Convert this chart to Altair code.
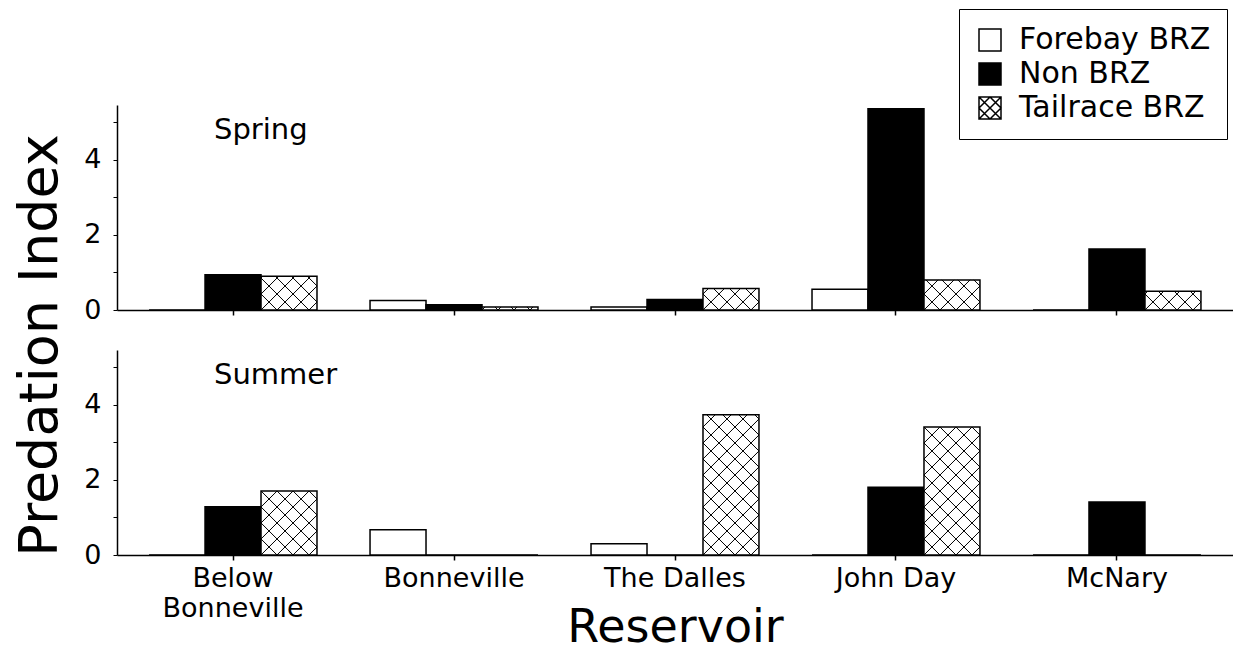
import altair as alt
import pandas as pd

# ---------------- data ----------------
reservoirs = ["Below Bonneville", "Bonneville", "The Dalles", "John Day", "McNary"]
zones = ["Forebay BRZ", "Non BRZ", "Tailrace BRZ"]
seasons = ["Spring", "Summer"]

spring_forebay = [0.0, 0.25, 0.08, 0.55, 0.0]
spring_non = [0.94, 0.14, 0.28, 5.35, 1.62]
spring_tailrace = [0.90, 0.08, 0.57, 0.80, 0.50]

summer_forebay = [0.0, 0.67, 0.30, 0.0, 0.0]
summer_non = [1.28, 0.0, 0.0, 1.80, 1.41]
summer_tailrace = [1.70, 0.0, 3.73, 3.40, 0.0]

series = {
    "Spring": [spring_forebay, spring_non, spring_tailrace],
    "Summer": [summer_forebay, summer_non, summer_tailrace],
}
rows = []
for season in seasons:
    for zone, vals in zip(zones, series[season]):
        for r, v in zip(reservoirs, vals):
            rows.append({"season": season, "reservoir": r, "zone": zone, "value": v})
df = pd.DataFrame(rows)

# ---------------- layout / style ----------------
FONT = "DejaVu Sans"
W = 1116          # plot width of each panel
H = 205           # plot height of each panel
YMAX = 5.45
PAD_IN = 0.24
PAD_OUT = 0.145
STEP = W / (len(reservoirs) - PAD_IN + 2 * PAD_OUT)
SUB_W = STEP * (1 - PAD_IN) / len(zones)
HW = SUB_W / 2
D = 16            # hatch spacing (px)
PX_PER_UNIT = H / YMAX

HATCH_SYMBOL = "M-1,-1H1V1H-1Z M-1,-1L1,1 M-1,1L1,-1 M0,-1L1,0L0,1L-1,0Z"


def r1(e):
    return f"(round(({e})*10)/10)"


seg_a = (
    "(datum.a0 < datum.a1 ? 'M' + " + r1(f"datum.a0 + datum.ca - {HW}") + " + ',' + "
    + r1("datum.h - datum.a0") + " + 'L' + " + r1(f"datum.a1 + datum.ca - {HW}")
    + " + ',' + " + r1("datum.h - datum.a1") + " : '')"
)
seg_b = (
    "(datum.b0 < datum.b1 ? 'M' + " + r1(f"datum.cb - datum.b0 - {HW}") + " + ',' + "
    + r1("datum.h - datum.b0") + " + 'L' + " + r1(f"datum.cb - datum.b1 - {HW}")
    + " + ',' + " + r1("datum.h - datum.b1") + " : '')"
)


def panel(season, bottom):
    base = alt.Chart(df).transform_filter(alt.datum.season == season)

    if bottom:
        xaxis = alt.Axis(
            labelExpr="datum.value == 'Below Bonneville' ? ['Below', 'Bonneville'] : datum.label",
            labelAngle=0, labelFontSize=27, labelLineHeight=30, labelPadding=5,
            labelBaseline="top", labelLimit=0, tickSize=5, tickWidth=1.5,
            domainWidth=1.5, title="Reservoir", titleFontSize=46,
            titleFontWeight="normal", titleBaseline="alphabetic", titleY=86,
        )
        yaxis = alt.Axis(
            values=[0, 1, 2, 3, 4, 5],
            labelExpr="datum.value % 2 == 0 ? datum.label : ''",
            tickSize=4, labelFontSize=27, labelPadding=12, domainWidth=1.5,
            title=None,
        )
    else:
        xaxis = alt.Axis(labels=False, title=None, tickSize=5, tickWidth=1.5,
                         domainWidth=1.5)
        yaxis = alt.Axis(
            values=[0, 1, 2, 3, 4, 5],
            labelExpr="datum.value % 2 == 0 ? datum.label : ''",
            tickSize=4, labelFontSize=27, labelPadding=12, domainWidth=1.5,
            title="Predation Index", titleFontSize=54, titleFontWeight="normal",
            titleX=-50, titleY=240, titleBaseline="bottom", titleAlign="center",
        )

    x = alt.X("reservoir:N", sort=reservoirs,
              scale=alt.Scale(domain=reservoirs, paddingInner=PAD_IN, paddingOuter=PAD_OUT),
              axis=xaxis)
    xo = alt.XOffset("zone:N", sort=zones, scale=alt.Scale(domain=zones))
    y = alt.Y("value:Q", scale=alt.Scale(domain=[0, YMAX], nice=False, zero=True), axis=yaxis)

    if bottom:
        legend = None
    else:
        legend = alt.Legend(
            title=None, orient="none", legendX=842, legendY=-96,
            symbolType=alt.ExprRef(
                f"datum.value === 'Tailrace BRZ' ? '{HATCH_SYMBOL}' : 'square'"),
            symbolSize=484, symbolStrokeColor="black", symbolStrokeWidth=1.5,
            labelFontSize=30, labelFont=FONT, labelColor="black", labelOffset=14,
            labelLimit=0, strokeColor="black", fillColor="white", padding=16,
            rowPadding=4,
        )

    bars = base.mark_bar(stroke="black", strokeWidth=1.5).encode(
        x=x, xOffset=xo, y=y,
        fill=alt.Fill("zone:N", sort=zones,
                      scale=alt.Scale(domain=zones, range=["white", "black", "white"]),
                      legend=legend),
    )

    hatch = (
        base.transform_filter(alt.datum.zone == "Tailrace BRZ")
        .transform_filter("datum.value > 0")
        .transform_calculate(h=f"datum.value * {PX_PER_UNIT}", k="sequence(-14, 19)")
        .transform_flatten(["k"])
        .transform_calculate(ca=f"datum.k * {D}", cb=f"(datum.k + 14) * {D}")
        .transform_calculate(
            a0="max(0, -datum.ca)", a1=f"min(datum.h, {SUB_W} - datum.ca)",
            b0=f"max(0, datum.cb - {SUB_W})", b1="min(datum.h, datum.cb)",
        )
        .transform_calculate(path=seg_a + " + ' ' + " + seg_b)
        .transform_filter("trim(datum.path) != ''")
        .mark_point(filled=False, stroke="black", strokeWidth=1, size=4, opacity=1)
        .encode(x=x, xOffset=xo, y=y,
                shape=alt.Shape("path:N", scale=None, legend=None))
    )

    label = alt.Chart(alt.Data(values=[{"season": season}])).mark_text(
        align="left", baseline="middle", fontSize=29, font=FONT, color="black"
    ).encode(text="season:N", x=alt.value(97), y=alt.value(25))

    return alt.layer(bars, hatch, label).properties(width=W, height=H)


chart = (
    alt.vconcat(panel("Spring", False), panel("Summer", True), spacing=40, bounds="flush")
    .resolve_scale(fill="independent")
    .resolve_legend(fill="independent")
    .configure(font=FONT, padding={"left": 4, "top": 0, "right": 0, "bottom": 4})
    .configure_axis(grid=False, domainColor="black", tickColor="black",
                    labelColor="black", titleColor="black",
                    labelFont=FONT, titleFont=FONT)
    .configure_view(stroke=None)
)

chart.save("out.html", embed_options={"renderer": "svg", "actions": False})
